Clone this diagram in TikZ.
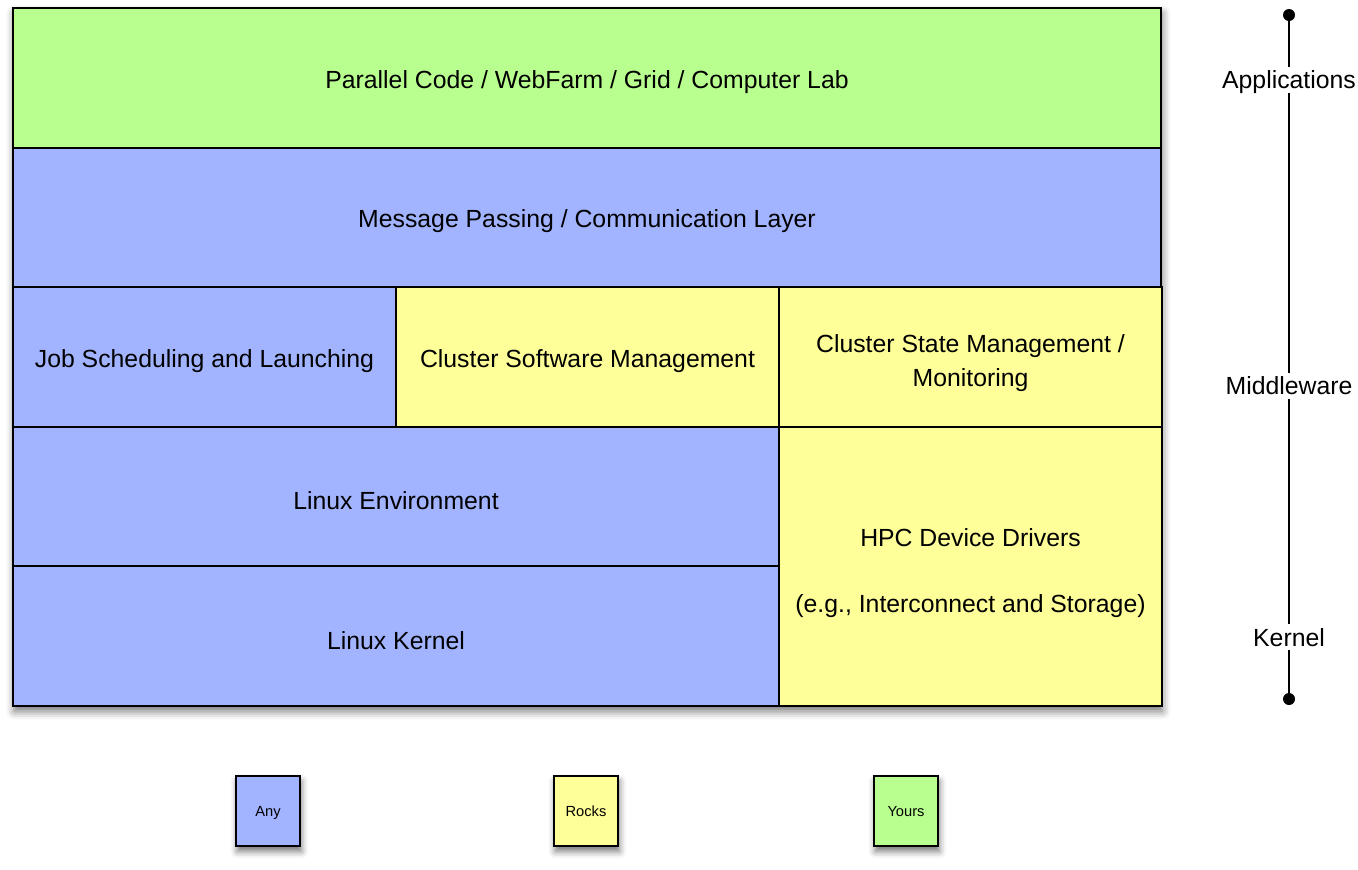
\documentclass[tikz,border=0pt]{standalone}
\usepackage{fontspec}
\setmainfont{Liberation Sans}
\usetikzlibrary{positioning, shadows.blur}
\definecolor{anyblue}{RGB}{162,180,255}
\definecolor{rocksyellow}{RGB}{255,255,153}
\definecolor{yoursgreen}{RGB}{185,255,143}
\tikzstyle{frame} = [rectangle, fill=white, outer sep=0pt, minimum width=861pt, minimum height=523.5pt, blur shadow={shadow xshift=1pt, shadow yshift=-4pt, shadow blur radius=6pt, shadow opacity=55}]
\tikzstyle{cell} = [rectangle, draw=black, line width=1.5pt, outer sep=0pt, text centered, align=center, execute at begin node={\rule{0pt}{19.5pt}}, font=\fontsize{18.6}{25.5}\selectfont]
\tikzstyle{anycell} = [cell, fill=anyblue]
\tikzstyle{rockscell} = [cell, fill=rocksyellow]
\tikzstyle{yourscell} = [cell, fill=yoursgreen]
\tikzstyle{fullrow} = [minimum width=861pt, minimum height=104.7pt]
\tikzstyle{third} = [minimum width=287.25pt, minimum height=104.7pt]
\tikzstyle{twothird} = [minimum width=574.5pt, minimum height=104.7pt]
\tikzstyle{legend} = [rectangle, draw=black, line width=1.2pt, minimum width=48pt, minimum height=52.5pt, text depth=0pt, font=\fontsize{11}{13}\selectfont, blur shadow={shadow xshift=1pt, shadow yshift=-4pt, shadow blur radius=5pt, shadow opacity=55}]
\tikzstyle{dot} = [circle, fill=black, inner sep=0pt, minimum size=9pt]
\tikzstyle{level} = [inner sep=3pt, text depth=0pt, font=\fontsize{18.6}{22}\selectfont]

\begin{document}
\begin{tikzpicture}[x=0.75pt, y=-0.75pt]
		\useasboundingbox (0,0) rectangle (1358,869);
		\node (stack) [frame] at (587,357) {};
		\node (apps) [yourscell, fullrow, anchor=north] at (stack.north) {Parallel Code / WebFarm / Grid / Computer Lab};
		\node (msg) [anycell, fullrow, below=0pt of apps] {Message Passing / Communication Layer};
		\node (jobs) [anycell, third, below right=0pt and 0pt of msg.south west] {Job Scheduling and Launching};
		\node (swmgmt) [rockscell, third, right=0pt of jobs] {Cluster Software Management};
		\node (state) [rockscell, third, right=0pt of swmgmt] {\rule{0pt}{23pt}Cluster State Management /\\ Monitoring};
		\node (linenv) [anycell, twothird, below right=0pt and 0pt of jobs.south west] {Linux Environment};
		\node (kernel) [anycell, twothird, below=0pt of linenv] {Linux Kernel};
		\node (hpc) [rockscell, minimum width=287.25pt, minimum height=209.25pt, below=0pt of state] {\rule{0pt}{23pt}HPC Device Drivers\\[24pt](e.g., Interconnect and Storage)};

		% legend
		\node (lany) [legend, fill=anyblue] at (268,811) {Any};
		\node (lrocks) [legend, fill=rocksyellow] at (586,811) {Rocks};
		\node (lyours) [legend, fill=yoursgreen] at (906,811) {Yours};

		% layers
		\node (top) [dot] at (1289,15) {};
		\node (applab) [level] at (1289,80) {Applications};
		\node (midlab) [level] at (1289,386) {Middleware};
		\node (kernlab) [level] at (1289,637) {Kernel};
		\node (bottom) [dot] at (1289,699) {};
		\draw [line width=1.5pt] (top) -- (applab) -- (midlab) -- (kernlab) -- (bottom);
	\end{tikzpicture}
\end{document}
